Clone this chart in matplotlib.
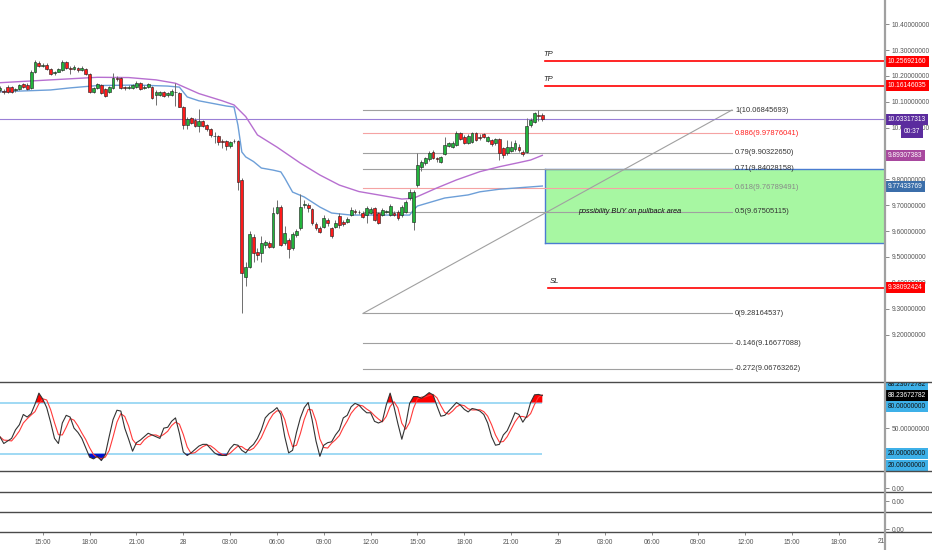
import matplotlib
matplotlib.use('Agg')
import matplotlib.pyplot as plt
import numpy as np
import pandas as pd
from matplotlib.patches import Rectangle
from matplotlib.lines import Line2D
import matplotlib.transforms as mtransforms

plt.rcParams['font.family'] = ['Liberation Sans', 'DejaVu Sans']

# ---------------- data ----------------
opens = [10.144,10.142,10.159,10.157,10.146,10.150,10.169,10.165,10.154,10.215,
         10.250,10.239,10.243,10.227,10.210,10.217,10.223,10.254,10.231,10.227,
         10.231,10.223,10.227,10.208,10.140,10.154,10.165,10.150,10.139,10.154,
         10.192,10.192,10.157,10.154,10.154,10.159,10.174,10.154,10.159,10.159,
         10.126,10.126,10.139,10.125,10.126,10.138,10.134,10.081,10.010,10.037,
         10.030,10.005,10.026,10.010,9.995,9.968,9.968,9.948,9.948,9.929,
         9.947,9.948,9.798,9.424,9.462,9.578,9.520,9.515,9.546,9.555,
         9.540,9.670,9.694,9.554,9.566,9.535,9.585,9.612,9.701,9.701,
         9.685,9.628,9.612,9.617,9.643,9.612,9.617,9.658,9.637,9.635,
         9.662,9.678,9.674,9.670,9.662,9.670,9.689,9.670,9.662,9.672,
         9.662,9.670,9.674,9.662,9.675,9.727,9.637,9.778,9.848,9.863,
         9.878,9.907,9.881,9.868,9.898,9.931,9.927,9.933,9.978,9.965,
         9.940,9.946,9.978,9.964,9.974,9.950,9.952,9.940,9.955,9.920,
         9.901,9.911,9.916,9.925,9.907,9.907,10.010,10.023,10.049,10.049]
closes = [10.154,10.138,10.139,10.138,10.148,10.165,10.157,10.150,10.215,10.254,
          10.239,10.243,10.227,10.208,10.214,10.227,10.254,10.232,10.227,10.235,
          10.223,10.231,10.208,10.138,10.154,10.169,10.134,10.121,10.159,10.192,
          10.188,10.154,10.152,10.159,10.165,10.174,10.149,10.157,10.169,10.114,
          10.138,10.139,10.124,10.134,10.142,10.140,10.081,10.010,10.034,10.018,
          10.006,10.026,10.008,9.995,9.972,9.966,9.943,9.945,9.929,9.945,
          9.948,9.791,9.439,9.462,9.589,9.515,9.508,9.554,9.559,9.540,
          9.670,9.694,9.546,9.593,9.531,9.589,9.601,9.693,9.705,9.689,
          9.631,9.612,9.598,9.651,9.631,9.581,9.633,9.622,9.628,9.646,
          9.682,9.674,9.672,9.656,9.689,9.687,9.643,9.633,9.682,9.676,
          9.697,9.664,9.651,9.693,9.714,9.752,9.751,9.856,9.869,9.882,
          9.903,9.883,9.877,9.886,9.933,9.939,9.941,9.978,9.955,9.942,
          9.968,9.978,9.952,9.960,9.965,9.963,9.936,9.955,9.901,9.894,
          9.927,9.927,9.942,9.914,9.897,10.006,10.030,10.056,10.047,10.03317313]
highs = [10.161,10.150,10.165,10.161,10.154,10.169,10.173,10.173,10.223,10.262,
         10.258,10.250,10.250,10.231,10.219,10.231,10.262,10.258,10.239,10.243,
         10.235,10.239,10.231,10.212,10.157,10.173,10.169,10.154,10.161,10.213,
         10.200,10.196,10.161,10.165,10.169,10.181,10.177,10.165,10.173,10.161,
         10.146,10.142,10.142,10.138,10.148,10.173,10.138,10.084,10.041,10.041,
         10.037,10.072,10.030,10.014,9.999,9.983,9.972,9.956,9.952,9.948,
         9.956,9.952,9.805,9.480,9.600,9.589,9.535,9.581,9.566,9.562,
         9.693,9.720,9.701,9.620,9.573,9.597,9.608,9.743,9.720,9.709,
         9.689,9.635,9.620,9.662,9.651,9.616,9.643,9.670,9.643,9.654,
         9.693,9.685,9.682,9.678,9.697,9.693,9.693,9.674,9.689,9.682,
         9.705,9.678,9.682,9.701,9.720,9.763,9.759,9.902,9.875,9.887,
         9.910,9.914,9.887,9.891,9.965,9.945,9.948,9.987,9.983,9.972,
         9.976,9.983,9.983,9.976,9.979,9.968,9.956,9.960,9.960,9.925,
         9.952,9.948,9.952,9.937,9.914,10.037,10.037,10.061,10.06845693,10.057]
lows = [10.138,10.130,10.134,10.134,10.138,10.146,10.154,10.146,10.150,10.212,
        10.235,10.235,10.223,10.204,10.204,10.215,10.219,10.227,10.206,10.223,
        10.215,10.219,10.204,10.134,10.134,10.150,10.130,10.119,10.134,10.150,
        10.181,10.150,10.146,10.150,10.150,10.154,10.146,10.150,10.154,10.111,
        10.088,10.123,10.119,10.119,10.123,10.084,10.080,9.995,9.995,10.014,
        10.003,9.983,10.003,9.987,9.964,9.941,9.933,9.921,9.914,9.921,
        9.941,9.759,9.28164537,9.388,9.457,9.480,9.488,9.480,9.535,9.535,
        9.535,9.666,9.542,9.546,9.496,9.527,9.577,9.604,9.689,9.674,
        9.624,9.604,9.593,9.612,9.620,9.573,9.612,9.612,9.620,9.631,
        9.658,9.666,9.666,9.651,9.631,9.666,9.639,9.628,9.658,9.670,
        9.658,9.658,9.643,9.654,9.670,9.720,9.604,9.771,9.832,9.856,
        9.871,9.879,9.867,9.863,9.894,9.925,9.921,9.929,9.952,9.937,
        9.937,9.941,9.948,9.952,9.960,9.945,9.929,9.933,9.875,9.883,
        9.894,9.906,9.910,9.906,9.891,9.902,10.003,10.018,10.027,10.026]

stoch_k = [40,32,35,38,48,54,66,63,67,78,
           91,84,74,57,38,32,56,65,63,50,
           45,38,27,16,14,17,12,19,40,60,
           71,70,50,37,23,33,36,40,44,42,
           40,38,50,51,58,62,44,22,18,21,
           25,29,31,31,26,21,18.5,18,18,26,
           31,30,24,21,27,31,38,48,62,67,
           70,74,66,40,21,24,45,62,74,80,
           60,35,17,30,33,34,42,48,62,65,
           75,79,77,72,68,68,58,56,58,77,
           91,75,55,37,54,79,87,87,85,88,
           91.6,89,76,64,65,70,75,80,77,72,
           69,73,72,70,66,56,40,30,31,42,
           47,57,68,66,57,64,80,89,89.5,88.23672782]

# moving averages (sampled at candle indices)
purple_idx = [0,13,25,33,40,45,51,57,60,63,66,71,77,82,87,92,97,103,106,112,117,123,128,133,136,139]
purple_val = [10.174,10.185,10.195,10.194,10.185,10.172,10.132,10.104,10.088,10.043,9.972,9.925,
              9.863,9.817,9.778,9.753,9.740,9.724,9.727,9.767,9.798,9.830,9.849,9.865,9.875,9.89307383]
blue_idx = [0,13,18,25,35,43,46,48,51,58,60,61,62,63,65,67,70,72,73,75,78,82,85,90,105,106,107,114,120,123,128,139]
blue_val = [10.139,10.146,10.154,10.163,10.165,10.161,10.157,10.119,10.104,10.084,10.080,10.010,9.906,
            9.887,9.869,9.844,9.836,9.829,9.805,9.751,9.732,9.693,9.670,9.662,9.662,9.682,9.697,9.728,
            9.740,9.752,9.762,9.77433769]

fib_ratio_labels = ['1', '0.886', '0.79', '0.71', '0.618', '0.5', '0', '-0.146', '-0.272']
fib_prices = [10.06845693, 9.97876041, 9.90322650, 9.84028158, 9.76789491,
              9.67505115, 9.28164537, 9.16677088, 9.06763262]

tp1, tp2, sl = 10.25692160, 10.16146035, 9.38092424
last_price = 10.03317313
ma_purple_last = 9.89307383
ma_blue_last = 9.77433769
zone_top, zone_bottom = 9.84028158, 9.5536

time_tick_hours = [15, 18, 21, 24, 27, 30, 33, 36, 39, 42, 45, 48, 51, 54, 57, 60, 63, 66]
time_tick_labels = ['15:00', '18:00', '21:00', '28', '03:00', '06:00', '09:00', '12:00', '15:00',
                    '18:00', '21:00', '29', '03:00', '06:00', '09:00', '12:00', '15:00', '18:00']

# candle times in hours from the 27th 00:00
times = pd.date_range('2020-01-27 12:15', periods=len(closes), freq='15min')
t = np.array((times - pd.Timestamp('2020-01-27 00:00')) / pd.Timedelta(hours=1))

# ---------------- layout ----------------
W, H = 932, 550
fig = plt.figure(figsize=(W / 100, H / 100), dpi=100)
fig.patch.set_facecolor('white')
AXR = 885
PXH = 15.61
XL = 12.258
XR = XL + AXR / PXH


def fy(ypx):
    return 1 - ypx / H


def fx(xpx):
    return xpx / W


def tx(xpx):
    return XL + xpx / PXH


def add_ax(top, bottom):
    a = fig.add_axes([0, fy(bottom), AXR / W, (bottom - top) / H])
    a.set_facecolor('white')
    for s in a.spines.values():
        s.set_visible(False)
    a.set_xlim(XL, XR)
    a.tick_params(axis='x', bottom=False, labelbottom=False)
    a.yaxis.tick_right()
    a.tick_params(axis='y', length=3, width=0.6, color='#777777', labelsize=4.8,
                  labelcolor='#555555', pad=1.5)
    return a


ax = add_ax(0, 382.3)
ax_st = add_ax(382.3, 471)
ax3 = add_ax(471, 491.7)
ax4 = add_ax(491.7, 511.7)
ax5 = add_ax(511.7, 531.7)

# ---------------- main pane ----------------
ax.set_ylim(9.01509, 10.494)
yt = np.round(np.arange(9.1, 10.41, 0.1), 1)
ax.set_yticks(yt)
# the 9.9 label is hidden behind the MA value tag in the reference
ax.set_yticklabels(['' if abs(v - 9.9) < 1e-6 else f'{v:.8f}' for v in yt])

o = np.array(opens); c = np.array(closes); h = np.array(highs); l = np.array(lows)
up = c >= o
ax.vlines(t, l, h, color='#6e6e6e', lw=0.7, zorder=4)
bb = np.minimum(o, c)
bh = np.maximum(np.abs(c - o), 0.0016)
ax.bar(t[up], bh[up], bottom=bb[up], width=0.18, color='#22b43c', edgecolor='#1a1a1a',
       linewidth=0.4, zorder=5)
ax.bar(t[~up], bh[~up], bottom=bb[~up], width=0.18, color='#ff1a1a', edgecolor='#1a1a1a',
       linewidth=0.4, zorder=5)

ax.plot(t[purple_idx], purple_val, color='#b76fd0', lw=1.0, zorder=3)
ax.plot(t[blue_idx], blue_val, color='#6d9fd8', lw=1.0, zorder=3)

ax.axhline(last_price, color='#9a7fd6', lw=0.8, zorder=2)

# buy zone
zx0 = tx(545)
ax.add_patch(Rectangle((zx0, zone_bottom), XR - zx0, zone_top - zone_bottom,
                       facecolor='#a7f7a2', edgecolor='none', zorder=0.5))
ax.plot([zx0, XR], [zone_top, zone_top], color='#4a7cd0', lw=1.0, zorder=0.6)
ax.plot([zx0, XR], [zone_bottom, zone_bottom], color='#4a7cd0', lw=1.0, zorder=0.6)
ax.plot([zx0, zx0], [zone_bottom, zone_top], color='#4a7cd0', lw=1.0, zorder=0.6)
ax.text(tx(578), 9.67505115, 'possibility BUY on pullback area', fontsize=5.2,
        fontstyle='italic', color='#111111', va='center', ha='left', zorder=6)

# fib retracement
f0, f1 = tx(363), tx(732)
fib_line_colors = ['#a0a0a0', '#f5a3a3', '#a0a0a0', '#a0a0a0', '#f5a3a3', '#a0a0a0', '#a0a0a0',
                   '#a0a0a0', '#a0a0a0']
fib_text_colors = ['#333333', '#ff2020', '#333333', '#333333', '#888888', '#333333', '#333333',
                   '#333333', '#333333']
for lab, p, lc, tc in zip(fib_ratio_labels, fib_prices, fib_line_colors, fib_text_colors):
    ax.plot([f0, f1], [p, p], color=lc, lw=0.8, zorder=1)
    ax.text(tx(735), p, f'{lab}({p:.8f})', fontsize=5.4, color=tc, va='center', ha='left',
            zorder=6)
ax.plot([f0, f1], [fib_prices[6], fib_prices[0]], color='#a0a0a0', lw=0.8, zorder=1)

# TP / SL
ax.plot([tx(545), XR], [tp1, tp1], color='#ff0000', lw=1.2, zorder=3)
ax.plot([tx(545), XR], [tp2, tp2], color='#ff0000', lw=1.2, zorder=3)
ax.plot([tx(548), XR], [sl, sl], color='#ff0000', lw=1.2, zorder=3)
for p, xp in [(tp1, 543), (tp2, 543), (sl, 550)]:
    ax.annotate('TP' if p != sl else 'SL', (tx(xp), p), xytext=(0, 3),
                textcoords='offset pixels', fontsize=5.5, fontstyle='italic',
                color='#222222', ha='left', va='bottom')

# price-axis labels
blend = mtransforms.blended_transform_factory(fig.transFigure, ax.transData)
for p, col in [(tp1, '#ff0000'), (tp2, '#ff0000'), (last_price, '#5b2c9e'),
               (ma_purple_last, '#a8489e'), (ma_blue_last, '#3b6eaa'), (sl, '#ff0000')]:
    ax.text(fx(888), p, f'{p:.8f}', transform=blend, fontsize=4.8, color='white',
            va='center', ha='left', clip_on=False, zorder=10,
            bbox=dict(boxstyle='square,pad=0.3', fc=col, ec='none'))
fig.text(fx(904), fy(131.5), '00:37', fontsize=4.8, color='white', va='center', ha='left',
         zorder=10, bbox=dict(boxstyle='square,pad=0.4', fc='#5b2c9e', ec='none'))

# ---------------- stochastic pane ----------------
K = np.array(stoch_k, dtype=float)
D = pd.Series(K).rolling(3, min_periods=1).mean().values
ax_st.set_ylim(-0.2, 103.7)
ax_st.hlines([80, 20], XL, t[-1], color='#8fd3f2', lw=1.2, zorder=1)
ax_st.fill_between(t, K, 80, where=K > 80, interpolate=True, color='#ff0000', lw=0, zorder=2)
ax_st.fill_between(t, K, 20, where=K < 20, interpolate=True, color='#0010d0', lw=0, zorder=2)
ax_st.plot(t, D, color='#ff3a3a', lw=0.8, zorder=3)
ax_st.plot(t, K, color='#333333', lw=0.8, zorder=4)
ax_st.set_yticks([20, 50, 80])
ax_st.set_yticklabels(['', '50.00000000', ''])

for ypx, txt, fc, tc in [(384.3, '88.23672782', '#3db0e8', '#111111'),
                         (395.3, '88.23672782', '#000000', '#ffffff'),
                         (406.7, '80.00000000', '#3db0e8', '#111111'),
                         (453.3, '20.00000000', '#3db0e8', '#111111'),
                         (465.7, '20.00000000', '#3db0e8', '#111111')]:
    fig.text(fx(888), fy(ypx), txt, fontsize=4.8, color=tc, va='center', ha='left', zorder=10,
             bbox=dict(boxstyle='square,pad=0.3', fc=fc, ec='none'))
fig.patches.append(Rectangle((fx(885.5), fy(382.3)), 1, 0.05, transform=fig.transFigure,
                             facecolor='white', edgecolor='none', zorder=11))

# ---------------- empty panes ----------------
ax3.set_ylim(-0.164, 0.836)
ax4.set_ylim(-0.535, 0.465)
ax5.set_ylim(-0.12, 0.88)
for a in (ax3, ax4, ax5):
    a.set_yticks([0])
    a.set_yticklabels(['0.00'])

ax5.set_xticks(time_tick_hours)
ax5.set_xticklabels(time_tick_labels)
ax5.tick_params(axis='x', bottom=True, labelbottom=True, length=2.2, width=0.6,
                color='#777777', labelsize=4.8, labelcolor='#555555', pad=3.2)
fig.text(fx(885), fy(541.7), '21', fontsize=4.8, color='#555555', ha='right', va='center')

# ---------------- separators ----------------
for ypx in [382.3, 471, 491.7, 511.7, 531.7]:
    fig.lines.append(Line2D([0, 1], [fy(ypx), fy(ypx)], transform=fig.transFigure,
                            color='#4a4a4a', lw=1.0, zorder=12))
fig.lines.append(Line2D([fx(885), fx(885)], [0, 1], transform=fig.transFigure,
                        color='#a0a0a0', lw=1.6, zorder=12))

fig.savefig('out.png', dpi=100, facecolor='white')
